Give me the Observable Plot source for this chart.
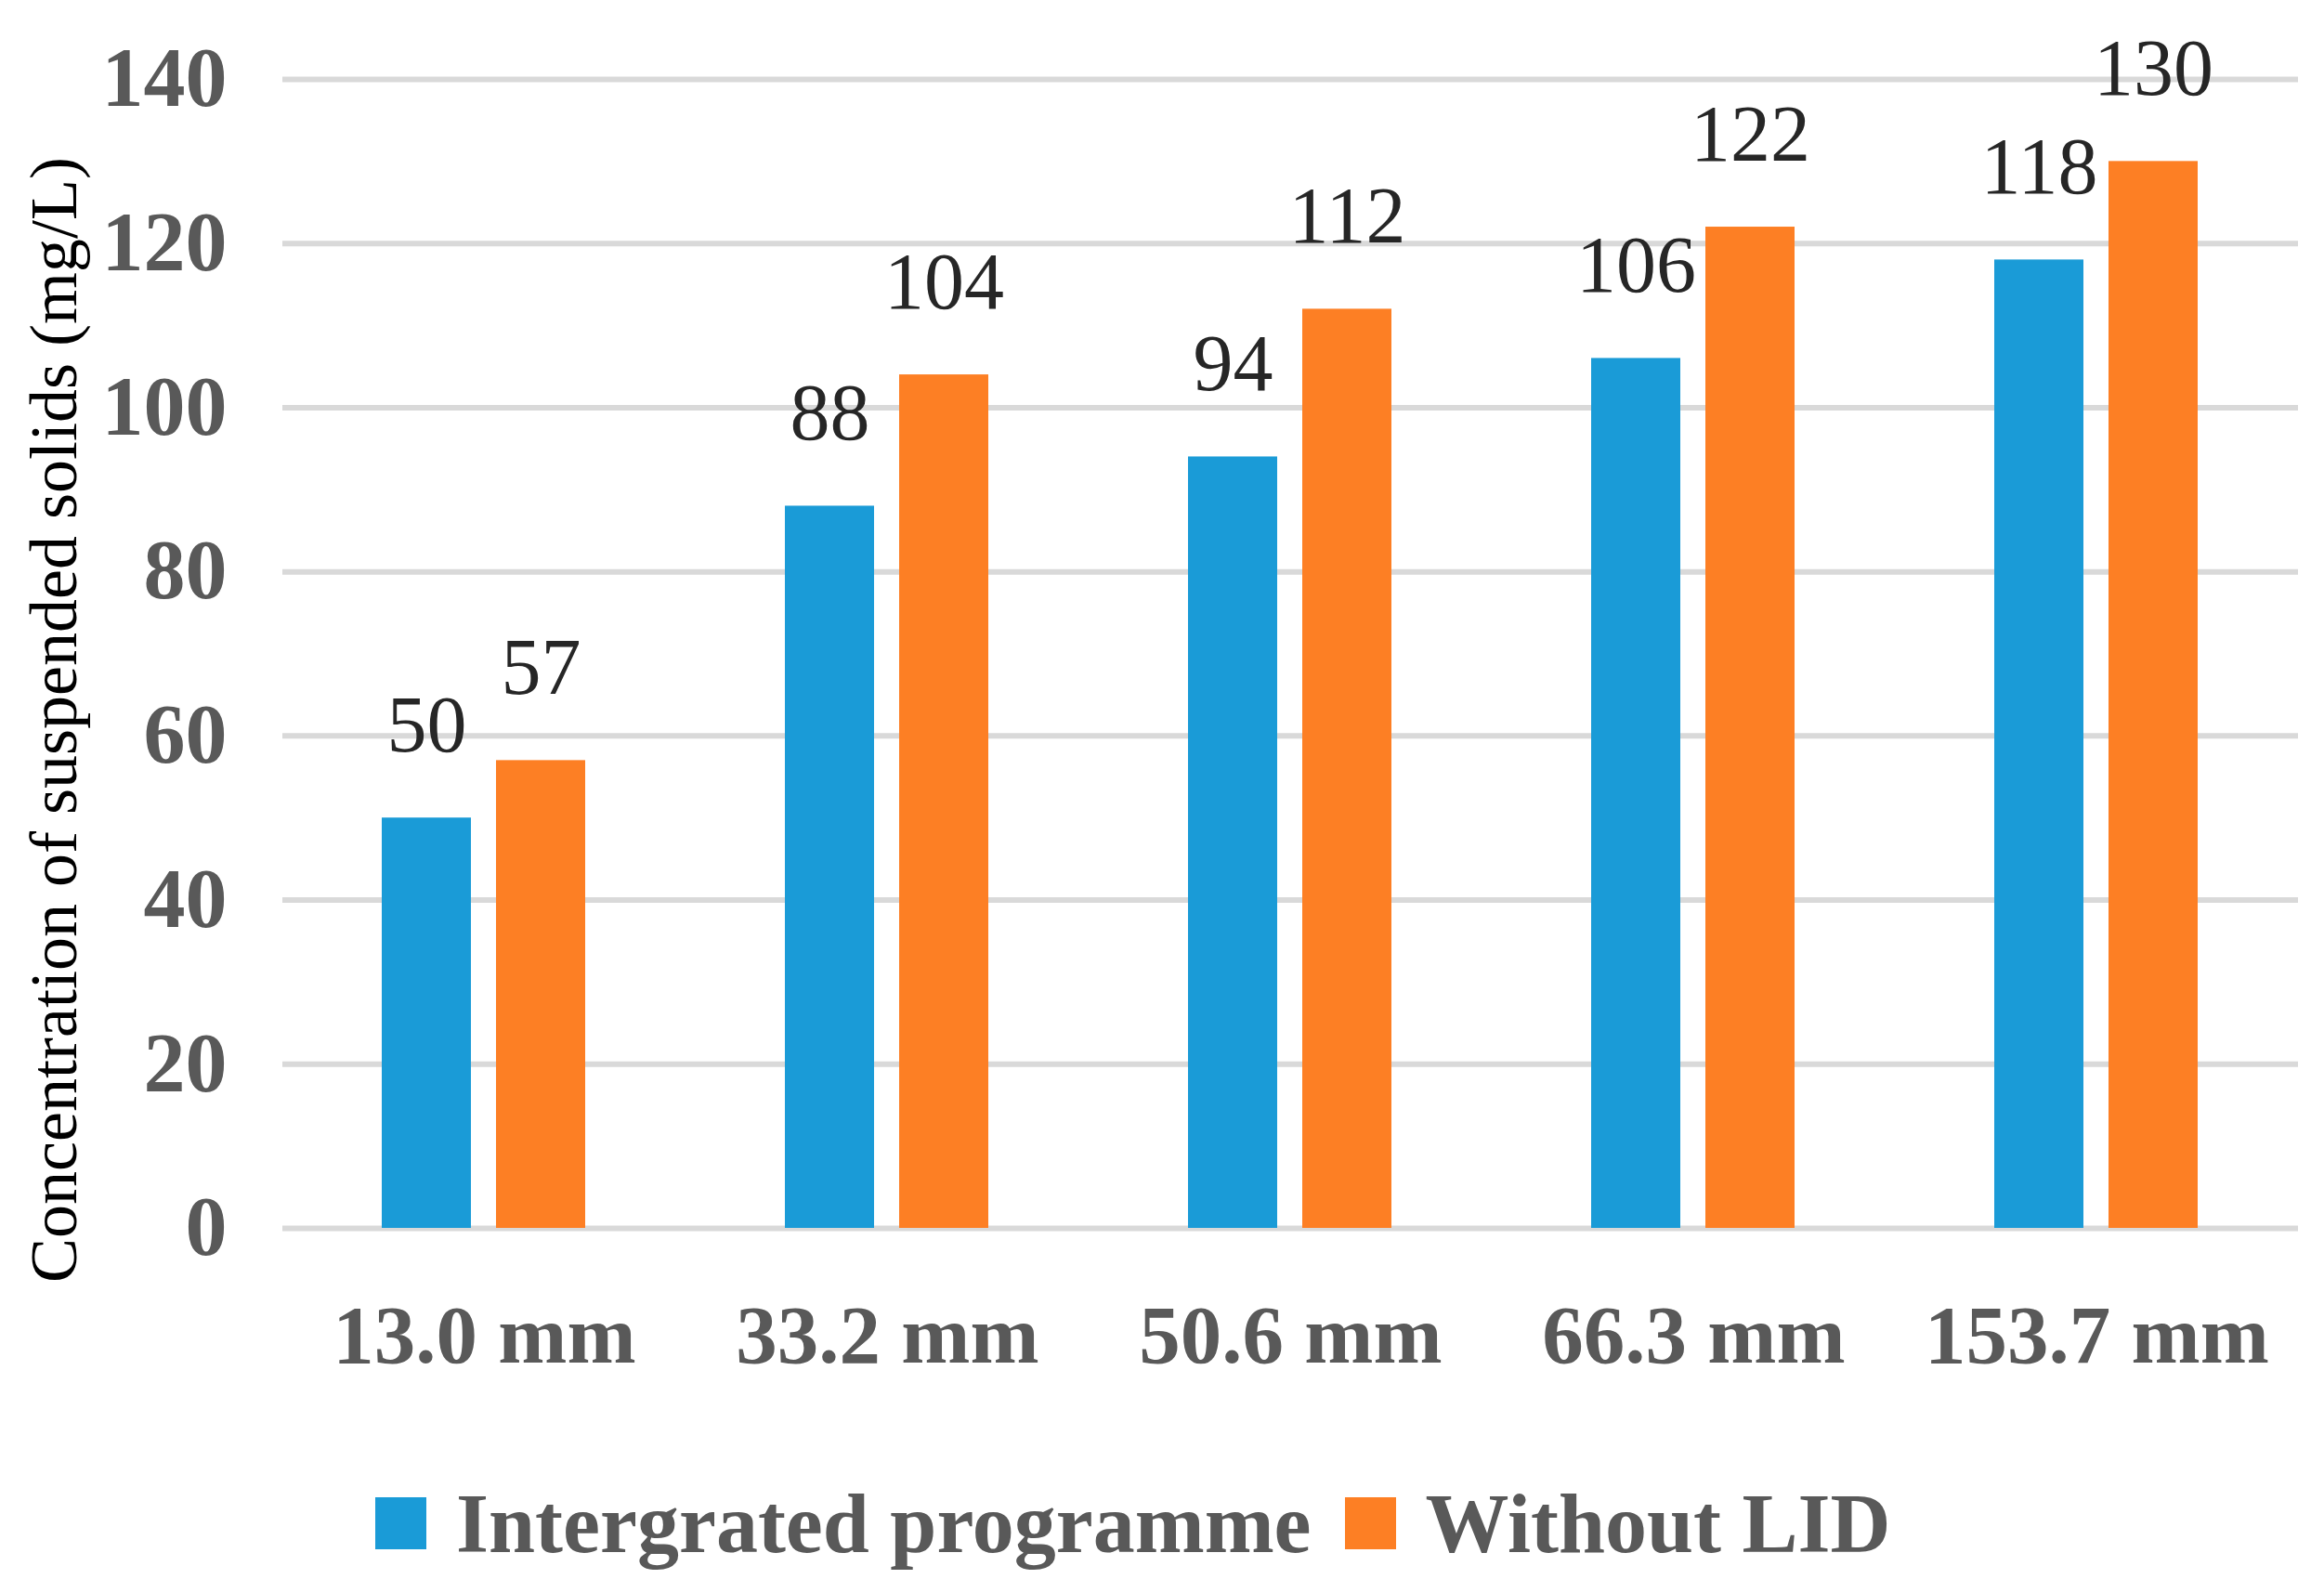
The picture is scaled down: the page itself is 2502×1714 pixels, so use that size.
<!DOCTYPE html>
<html>
<head>
<meta charset="utf-8">
<script src="https://cdn.jsdelivr.net/npm/d3@7"></script>
<script src="https://cdn.jsdelivr.net/npm/@observablehq/plot@0.6"></script>
<style>
  html, body { margin: 0; padding: 0; background: #ffffff; }
  #wrap { position: relative; width: 2502px; height: 1714px; font-family: "Liberation Serif", "Times New Roman", serif; }
  #ytitle { position: absolute; left: 58px; top: 775px; transform: translate(-50%, -50%) rotate(-90deg);
            white-space: nowrap; font-size: 72px; color: #000; line-height: 1; }
  #legend { position: absolute; left: 404px; top: 1596px; display: flex; align-items: center; height: 88px;
            font-size: 90px; font-weight: bold; color: #595959; white-space: nowrap; }
  .sw { width: 55px; height: 56px; display: inline-block; margin-right: 32px; }
  .item { display: flex; align-items: center; margin-right: 36px; }
  g[aria-label="y-axis tick label"], g[aria-label="fx-axis tick label"] { font-weight: bold; fill: #595959; }
</style>
</head>
<body>
<div id="wrap">
  <div id="chart"></div>
  <div id="ytitle"></div>
  <div id="legend"></div>
</div>
<script>
const categories = ["13.0 mm", "33.2 mm", "50.6 mm", "66.3 mm", "153.7 mm"];
const seriesNames = ["Intergrated programme", "Without LID"];
const integrated = [50, 88, 94, 106, 118];
const withoutLID = [57, 104, 112, 122, 130];
const yTicks = [0, 20, 40, 60, 80, 100, 120, 140];
const colors = ["#1a9bd7", "#fd7f24"];
const yTitle = "Concentration of suspended solids (mg/L)";

const data = [];
categories.forEach((c, i) => {
  data.push({cat: c, series: seriesNames[0], value: integrated[i]});
  data.push({cat: c, series: seriesNames[1], value: withoutLID[i]});
});

const chart = Plot.plot({
  width: 2502,
  height: 1560,
  marginLeft: 303,
  marginRight: 28,
  marginTop: 85,
  marginBottom: 238,
  style: {fontFamily: "Liberation Serif", background: "#ffffff", overflow: "visible"},
  fx: {domain: categories, paddingInner: 0, paddingOuter: 0, label: null},
  x: {domain: seriesNames, paddingInner: 0.219, paddingOuter: 0.867, axis: null},
  y: {domain: [0, 140], label: null, axis: null},
  color: {domain: seriesNames, range: colors},
  marks: [
    Plot.ruleY(yTicks, {stroke: "#d9d9d9", strokeWidth: 6}),
    Plot.barY(data, {fx: "cat", x: "series", y: "value", fill: "series"}),
    Plot.text(data, {fx: "cat", x: "series", y: "value", text: d => String(d.value),
      lineAnchor: "bottom", dy: -72, fontSize: 86, fill: "#262626"}),
    Plot.axisY({ticks: yTicks, tickSize: 0, tickPadding: 60, fontSize: 90, label: null, tickFormat: d => String(d)}),
    Plot.axisFx({anchor: "bottom", tickSize: 0, tickPadding: 81, fontSize: 89, label: null})
  ]
});
document.getElementById("chart").appendChild(chart);
document.getElementById("ytitle").textContent = yTitle;

const legend = document.getElementById("legend");
seriesNames.forEach((s, i) => {
  const item = document.createElement("div");
  item.className = "item";
  const sw = document.createElement("span");
  sw.className = "sw";
  sw.style.background = colors[i];
  const t = document.createElement("span");
  t.textContent = s;
  item.appendChild(sw);
  item.appendChild(t);
  legend.appendChild(item);
});
</script>
</body>
</html>
